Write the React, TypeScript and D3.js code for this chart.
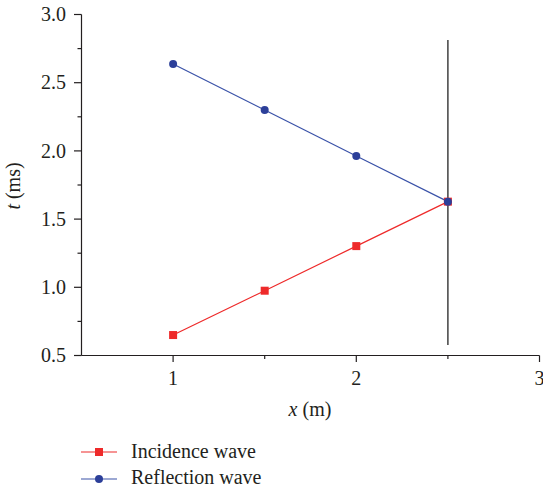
import React from "react";
import * as d3 from "d3";

const xValues = [1, 1.5, 2, 2.5];
const incidence = [0.65, 0.975, 1.302, 1.628];
const reflection = [2.637, 2.3, 1.963, 1.628];
const xTicks = [1, 2, 3];
const xMinor = [1.5, 2.5];
const yTicks = [0.5, 1.0, 1.5, 2.0, 2.5, 3.0];
const yMinor = [0.75, 1.25, 1.75, 2.25, 2.75];
const vLine = { x: 2.5, y0: 0.577, y1: 2.813 };

const RED = "#ee2a2a";
const BLUE = "#3a52a8";
const BLUE_M = "#2c3f99";
const FONT = '"Liberation Serif", "Times New Roman", Times, serif';

export default function App() {
  const W = 543, H = 491;
  const x = d3.scaleLinear().domain([0.5, 3]).range([81.5, 539.5]);
  const y = d3.scaleLinear().domain([0.5, 3]).range([355.5, 14.5]);
  const line = d3.line<[number, number]>().x(d => x(d[0])).y(d => y(d[1]));
  const inc: [number, number][] = xValues.map((v, i) => [v, incidence[i]]);
  const ref: [number, number][] = xValues.map((v, i) => [v, reflection[i]]);
  const axisColor = "#231f20";
  const FS = 20;
  const ts: React.CSSProperties = { fontFamily: FONT, fontSize: FS };
  return (
    <svg width={W} height={H} style={{ position: "absolute", left: 0, top: 0, background: "#fff", fontFamily: FONT }}>
      {/* y axis */}
      <line x1={81.5} x2={81.5} y1={y(3)} y2={y(0.5)} stroke={axisColor} strokeWidth={1.2} />
      {yTicks.map(t => (
        <g key={"yt" + t}>
          <line x1={74} x2={81.5} y1={y(t)} y2={y(t)} stroke={axisColor} strokeWidth={1.2} />
          <text x={66} y={y(t)} dy="0.33em" textAnchor="end" style={ts} fill="#231f20">{t.toFixed(1)}</text>
        </g>
      ))}
      {yMinor.map(t => (
        <line key={"ym" + t} x1={77.5} x2={81.5} y1={y(t)} y2={y(t)} stroke={axisColor} strokeWidth={1.2} />
      ))}
      {/* x axis */}
      <line x1={x(0.5)} x2={x(3)} y1={355.5} y2={355.5} stroke={axisColor} strokeWidth={1.2} />
      {xTicks.map(t => (
        <g key={"xt" + t}>
          <line x1={x(t)} x2={x(t)} y1={355.5} y2={362} stroke={axisColor} strokeWidth={1.2} />
          <text x={x(t)} y={385} textAnchor="middle" style={ts} fill="#231f20">{t}</text>
        </g>
      ))}
      {xMinor.map(t => (
        <line key={"xm" + t} x1={x(t)} x2={x(t)} y1={355.5} y2={359} stroke={axisColor} strokeWidth={1.2} />
      ))}
      {/* axis titles */}
      <text x={310} y={416} textAnchor="middle" style={ts} fill="#231f20">
        <tspan fontStyle="italic">x</tspan> (m)
      </text>
      <text transform={`translate(20,186) rotate(-90)`} textAnchor="middle" style={ts} fill="#231f20">
        <tspan fontStyle="italic">t</tspan> (ms)
      </text>
      {/* vertical line */}
      <line x1={x(vLine.x)} x2={x(vLine.x)} y1={y(vLine.y1)} y2={y(vLine.y0)} stroke="#333" strokeWidth={1.4} />
      {/* series */}
      <path d={line(inc) || ""} fill="none" stroke={RED} strokeWidth={1.2} />
      <path d={line(ref) || ""} fill="none" stroke={BLUE} strokeWidth={1.2} />
      {inc.map((d, i) => (
        <rect key={"ir" + i} x={x(d[0]) - 4} y={y(d[1]) - 4} width={8} height={8} fill={RED} />
      ))}
      {ref.map((d, i) => (
        <circle key={"rc" + i} cx={x(d[0])} cy={y(d[1])} r={4} fill={BLUE_M} />
      ))}
      {/* legend */}
      <g>
        <line x1={81} x2={117} y1={452} y2={452} stroke={RED} strokeWidth={1.2} />
        <rect x={95} y={448} width={8} height={8} fill={RED} />
        <text x={131} y={457.7} style={ts} fill="#231f20">Incidence wave</text>
        <line x1={81} x2={117} y1={479} y2={479} stroke={BLUE} strokeWidth={1.2} />
        <circle cx={99} cy={479} r={4} fill={BLUE_M} />
        <text x={131} y={484.3} style={ts} fill="#231f20">Reflection wave</text>
      </g>
    </svg>
  );
}
